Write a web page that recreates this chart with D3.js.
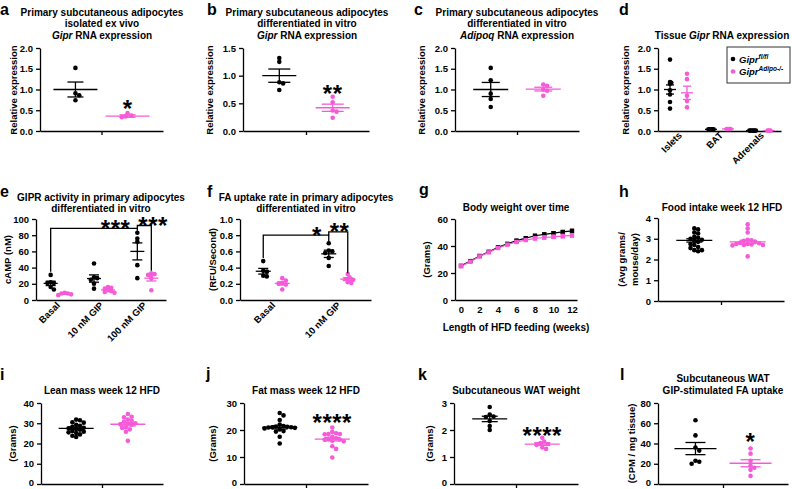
<!DOCTYPE html>
<html>
<head>
<meta charset="utf-8">
<script src="https://cdn.jsdelivr.net/npm/d3@7"></script>
<style>
  body { margin: 0; background: #fff; }
  svg { display: block; font-family: "Liberation Sans", Arial, sans-serif; font-weight: bold; }
</style>
</head>
<body>
<svg id="fig" width="792" height="489"></svg>
<script>
const BLACK = '#000'
const PINK = '#f55bd8'
const R = 2.3

// a - Gipr RNA, isolated ex vivo
const aCtrl = [1.52, 0.91, 0.86, 0.74]
const aKo = [0.43, 0.37, 0.35, 0.33]
const aMean = [1.0, 0.36]
const aSem = [0.18, 0.03]
const aStar = ['*', 0.67]

// b - Gipr RNA, differentiated in vitro
const bCtrl = [1.32, 1.25, 0.88, 0.86, 0.74]
const bKo = [0.62, 0.52, 0.37, 0.35, 0.24]
const bMean = [1.0, 0.42]
const bSem = [0.12, 0.065]
const bStar = ['**', 0.78]

// c - Adipoq RNA
const cCtrl = [1.52, 1.22, 0.90, 0.77, 0.58]
const cKo = [1.12, 1.09, 1.0, 0.97, 0.85]
const cMean = [1.0, 1.01]
const cSem = [0.17, 0.045]

// d - tissue Gipr RNA
const dTissues = ['Islets', 'BAT', 'Adrenals']
const dCtrl = [[1.72, 1.18, 1.16, 1.14, 0.98, 0.88, 0.70, 0.54], [0.04, 0.04, 0.04, 0.04, 0.04], [0.01, 0.01, 0.01, 0.01, 0.01, 0.01]]
const dKo = [[1.38, 1.25, 0.85, 0.72, 0.57], [0.05, 0.05, 0.05, 0.05], [0.01, 0.01, 0.01]]
const dCtrlMean = [1.0, 0.04, 0.01]
const dCtrlSem = [0.11, 0.003, 0.001]
const dKoMean = [0.92, 0.05, 0.01]
const dKoSem = [0.16, 0.004, 0.001]

// e - cAMP
const eDoses = ['Basal', '10 nM GIP', '100 nM GIP']
const eCtrl = [[31, 22, 21, 21, 16, 13], [45, 28, 27, 25, 20, 14], [83, 76, 72, 43, 27]]
const eKo = [[9, 8, 8, 7, 6], [16, 15, 14, 12, 11, 10, 9], [33, 32, 31, 27, 12]]
const eCtrlMean = [20.5, 26.5, 60]
const eCtrlSem = [2.7, 4.5, 10.5]
const eKoMean = [7.6, 12.4, 27]
const eKoSem = [0.5, 1, 3.5]
const eBrackets = [
  { a: ['Basal', 'ctrl'], b: ['100 nM GIP', 'ctrl'], at: 88.5, endA: 35, endB: 85.5, label: '***', align: 'end' },
  { a: ['100 nM GIP', 'ctrl'], b: ['100 nM GIP', 'ko'], at: 92, endA: 88.5, endB: 36, label: '***', align: 'start' }
]

// f - FA uptake rate
const fDoses = ['Basal', '10 nM GIP']
const fCtrl = [[0.48, 0.36, 0.35, 0.30, 0.29], [0.70, 0.61, 0.60, 0.58, 0.52, 0.42]]
const fKo = [[0.27, 0.24, 0.21, 0.20, 0.19, 0.13], [0.32, 0.28, 0.26, 0.25, 0.22, 0.21]]
const fCtrlMean = [0.355, 0.57]
const fCtrlSem = [0.035, 0.045]
const fKoMean = [0.205, 0.257]
const fKoSem = [0.02, 0.017]
const fBrackets = [
  { a: ['Basal', 'ctrl'], b: ['10 nM GIP', 'ctrl'], at: 0.80, endA: 0.52, endB: 0.72, label: '*', align: 'end' },
  { a: ['10 nM GIP', 'ctrl'], b: ['10 nM GIP', 'ko'], at: 0.84, endA: 0.80, endB: 0.33, label: '**', align: 'start' }
]

// g - body weight
const gWeeks = [0, 1, 2, 3, 4, 5, 6, 7, 8, 9, 10, 11, 12]
const gCtrl = [25.3, 28.8, 32.6, 35.7, 39.0, 41.6, 44.0, 45.8, 47.6, 48.6, 49.5, 50.4, 51.2]
const gKo = [25.0, 28.4, 32.3, 35.3, 38.5, 41.0, 43.0, 44.4, 45.6, 46.3, 46.8, 47.3, 47.9]
const gCtrlSem = [0.4, 0.5, 0.6, 0.7, 0.8, 0.9, 0.9, 1.0, 1.0, 1.1, 1.1, 1.1, 1.2]
const gKoSem = [0.4, 0.5, 0.6, 0.7, 0.8, 0.9, 1.0, 1.1, 1.2, 1.3, 1.3, 1.4, 1.4]
const gTicks = [0, 2, 4, 6, 8, 10, 12]

// h - food intake
const hCtrl = [3.5, 3.45, 3.3, 3.25, 3.1, 3.05, 3.0, 2.95, 2.9, 2.85, 2.75, 2.7, 2.6, 2.55, 2.45, 2.45, 2.4]
const hKo = [3.7, 3.5, 3.3, 2.95, 2.92, 2.9, 2.85, 2.8, 2.78, 2.75, 2.75, 2.72, 2.7, 2.7, 2.68, 2.15]
const hMean = [2.92, 2.85]
const hSem = [0.08, 0.08]

// i - lean mass
const iCtrl = [31.8, 31.5, 30.5, 30.3, 29.2, 28.8, 28.3, 27.8, 27.5, 27.2, 26.8, 26.2, 25.8, 25.5, 25.2, 24.5, 23.8, 23.2]
const iKo = [34.6, 33.2, 33.0, 31.8, 31.2, 30.8, 30.0, 29.8, 29.5, 29.3, 28.0, 27.7, 27.0, 25.8, 21.3]
const iMean = [27.5, 29.5]
const iSem = [0.6, 0.8]

// j - fat mass
const jCtrl = [26.3, 25.4, 23.7, 22.0, 21.5, 21.3, 21.2, 21.0, 21.0, 20.9, 20.8, 20.6, 20.2, 19.6, 19.4, 17.5, 15.0]
const jKo = [20.9, 19.3, 18.8, 18.5, 18.5, 18.4, 17.5, 16.9, 16.7, 16.5, 16.4, 16.0, 15.8, 14.0, 13.0, 9.8]
const jMean = [21.0, 16.6]
const jSem = [0.6, 0.65]
const jStar = ['****', 24.8]

// k - subcutaneous WAT weight
const kCtrl = [2.85, 2.57, 2.5, 2.48, 2.33, 2.15, 2.0]
const kKo = [1.71, 1.57, 1.52, 1.48, 1.45, 1.35, 1.3]
const kMean = [2.41, 1.48]
const kSem = [0.1, 0.05]
const kStar = ['****', 2.0]

// l - GIP-stimulated FA uptake
const lCtrl = [63, 48, 36, 33, 23, 22, 20]
const lKo = [35, 30, 23, 18, 16, 14, 8]
const lMean = [35, 20.5]
const lSem = [6, 3.5]
const lStar = ['*', 47]

const svg = d3.select('#fig')

function rich (t, segs) {
  segs.forEach(s => {
    const ts = t.append('tspan').text(s[0])
    if (s[1] === 'i') ts.style('font-style', 'italic')
  })
}

function addTitle (lines, cx, y0) {
  lines.forEach((ln, i) => {
    const t = svg.append('text').attr('x', cx).attr('y', y0 + i * 11.5)
      .attr('text-anchor', 'middle').attr('font-size', 10)
    rich(t, typeof ln === 'string' ? [[ln]] : ln)
  })
}

function addLetter (ch, x, y) {
  svg.append('text').attr('x', x).attr('y', y).attr('font-size', 16).text(ch)
}

function addYLabel (lines, x, yc) {
  lines.forEach((s, i) => {
    svg.append('text').attr('transform', `translate(${x + i * 13},${yc}) rotate(-90)`)
      .attr('text-anchor', 'middle').attr('font-size', 9.5).text(s)
  })
}

// simple beeswarm, points may overlap a little like the original
function swarm (vals, y, sep) {
  const placed = []
  const step = sep * 0.5
  return vals.map(v => {
    const py = y(v)
    let dx = 0
    for (let k = 0; k < 80; k++) {
      const cands = k === 0 ? [0] : [k * step, -k * step]
      const hit = cands.find(c => placed.every(q => Math.hypot(q[0] - c, q[1] - py) >= sep))
      if (hit !== undefined) { dx = hit; break }
    }
    placed.push([dx, py])
    return dx
  })
}

function drawGroup (y, cx, vals, mean, sem, color, mw, cw, sep) {
  const offs = swarm(vals, y, sep || 3.8)
  svg.append('g').selectAll('circle').data(vals).join('circle')
    .attr('cx', (d, i) => cx + offs[i]).attr('cy', d => y(d)).attr('r', R).attr('fill', color)
  const g = svg.append('g').attr('stroke', color).attr('stroke-width', 1.3)
  g.append('line').attr('x1', cx - mw).attr('x2', cx + mw).attr('y1', y(mean)).attr('y2', y(mean))
  g.append('line').attr('x1', cx).attr('x2', cx).attr('y1', y(mean - sem)).attr('y2', y(mean + sem))
  ;[mean - sem, mean + sem].forEach(v => {
    g.append('line').attr('x1', cx - cw).attr('x2', cx + cw).attr('y1', y(v)).attr('y2', y(v))
  })
}

function frame (p) {
  const y = d3.scaleLinear().domain([0, p.max]).range([p.bot, p.top])
  svg.append('g').attr('class', 'ax' + (p.low ? ' low' : '')).attr('transform', `translate(${p.x0},0)`)
    .call(d3.axisLeft(y).tickValues(p.ticks).tickFormat(d3.format(p.fmt)).tickSize(4).tickSizeOuter(0))
  return y
}

function addStar (text, x, yv, anchor) {
  svg.append('text').attr('x', x).attr('y', yv + 0.58 * 24).attr('text-anchor', anchor || 'middle')
    .attr('font-size', 24).attr('letter-spacing', 0.5).text(text)
}

function twoGroup (p) {
  const y = frame(p)
  const x = d3.scalePoint().domain(['ctrl', 'ko']).range([p.x0, p.x1]).padding(p.pad || 0.68)
  svg.append('g').attr('class', 'ax').attr('transform', `translate(0,${p.bot})`)
    .call(d3.axisBottom(d3.scaleLinear().range([p.x0, p.x1])).tickValues([0.5]).tickFormat('').tickSize(4).tickSizeOuter(0))
  drawGroup(y, x('ctrl'), p.ctrl, p.mean[0], p.sem[0], BLACK, p.mw, p.cw)
  drawGroup(y, x('ko'), p.ko, p.mean[1], p.sem[1], PINK, p.mw, p.cw)
  if (p.star) addStar(p.star[0], x('ko'), y(p.star[1]))
}

function catPanel (p) {
  const y = frame(p)
  const x = d3.scaleBand().domain(p.cats).range([p.x0, p.x1])
  const sub = d3.scalePoint().domain(['ctrl', 'ko']).range([-p.sub, p.sub])
  const cx = (c, k) => x(c) + x.bandwidth() / 2 + sub(k)
  const ax = svg.append('g').attr('class', 'ax').attr('transform', `translate(0,${p.bot})`)
    .call(d3.axisBottom(x).tickSize(0).tickSizeOuter(0))
  ax.selectAll('.tick text').attr('x', 0).attr('y', 0).attr('dy', 0)
    .attr('transform', `translate(${p.lab[0]},${p.lab[1]}) rotate(-45)`).attr('text-anchor', 'end')
  p.cats.forEach((c, i) => {
    drawGroup(y, cx(c, 'ctrl'), p.ctrl[i], p.ctrlMean[i], p.ctrlSem[i], BLACK, p.mw, p.cw, p.sep)
    drawGroup(y, cx(c, 'ko'), p.ko[i], p.koMean[i], p.koSem[i], PINK, p.mw, p.cw, p.sep)
  })
  ;(p.brackets || []).forEach(b => {
    const xa = cx(b.a[0], b.a[1])
    const xb = cx(b.b[0], b.b[1])
    svg.append('path').attr('fill', 'none').attr('stroke', '#000').attr('stroke-width', 1.3)
      .attr('d', d3.line()([[xa, y(b.endA)], [xa, y(b.at)], [xb, y(b.at)], [xb, y(b.endB)]]))
    const sy = y(b.at) - 2 - 0.15 * 24
    if (b.align === 'end') addStar(b.label, xb - 7, sy, 'end')
    else addStar(b.label, xa + 1, sy, 'start')
  })
}

// ---- row 1 ----
addLetter('a', 0, 15)
addTitle(['Primary subcutaneous adipocytes', 'isolated ex vivo', [['Gipr', 'i'], [' RNA expression']]], 102, 15.5)
addYLabel(['Relative expression'], 17, 90)
twoGroup({ x0: 40, x1: 163, top: 48, bot: 131, max: 2, ticks: [0, 0.5, 1, 1.5, 2], fmt: '.1f', ctrl: aCtrl, ko: aKo, mean: aMean, sem: aSem, mw: 22, cw: 8, star: aStar })

addLetter('b', 207, 15)
addTitle(['Primary subcutaneous adipocytes', 'differentiated in vitro', [['Gipr', 'i'], [' RNA expression']]], 307, 15.5)
addYLabel(['Relative expression'], 213, 90)
twoGroup({ x0: 243, x1: 369, top: 48, bot: 131, max: 1.5, ticks: [0, 0.5, 1, 1.5], fmt: '.1f', ctrl: bCtrl, ko: bKo, mean: bMean, sem: bSem, mw: 17, cw: 11, star: bStar })

addLetter('c', 414, 15)
addTitle(['Primary subcutaneous adipocytes', 'differentiated in vitro', [['Adipoq', 'i'], [' RNA expression']]], 517, 15.5)
addYLabel(['Relative expression'], 425, 90)
twoGroup({ x0: 455, x1: 579, top: 48, bot: 131, max: 2, ticks: [0, 0.5, 1, 1.5, 2], fmt: '.1f', ctrl: cCtrl, ko: cKo, mean: cMean, sem: cSem, mw: 17.5, cw: 9 })

addLetter('d', 619, 15)
addTitle([[['Tissue '], ['Gipr', 'i'], [' RNA expression']]], 722, 38.5)
addYLabel(['Relative expression'], 629, 90)
catPanel({ x0: 658, x1: 781, top: 48, bot: 131, max: 2, ticks: [0, 0.5, 1, 1.5, 2], fmt: '.1f', cats: dTissues, sub: 8.5, lab: [4, 5],
  ctrl: dCtrl, ko: dKo, ctrlMean: dCtrlMean, ctrlSem: dCtrlSem, koMean: dKoMean, koSem: dKoSem, mw: 6, cw: 4, sep: 1.3 })

// legend d
const leg = svg.append('g')
leg.append('rect').attr('x', 727).attr('y', 47).attr('width', 63).attr('height', 36)
  .attr('fill', '#fff').attr('stroke', '#333').attr('stroke-width', 1)
;[['fl/fl', BLACK], ['Adipo-/-', PINK]].forEach((e, i) => {
  leg.append('circle').attr('cx', 733).attr('cy', 59 + i * 12.5).attr('r', R).attr('fill', e[1])
  const t = leg.append('text').attr('x', 739).attr('y', 62.5 + i * 12.5).attr('font-size', 9.5)
  t.append('tspan').style('font-style', 'italic').text('Gipr')
  t.append('tspan').attr('dy', -4).attr('font-size', 6.5).style('font-style', 'italic').text(e[0])
})

// ---- row 2 ----
addLetter('e', 0, 197)
addTitle(['GIPR activity in primary adipocytes', 'differentiated in vitro'], 101, 200.5)
addYLabel(['cAMP (nM)'], 11, 259.5)
catPanel({ x0: 36, x1: 166, top: 219, bot: 300, max: 100, ticks: [0, 20, 40, 60, 80, 100], fmt: 'd', cats: eDoses, sub: 7, lab: [3, 6],
  ctrl: eCtrl, ko: eKo, ctrlMean: eCtrlMean, ctrlSem: eCtrlSem, koMean: eKoMean, koSem: eKoSem, mw: 7, cw: 5, sep: 3.2, brackets: eBrackets })

addLetter('f', 207, 197)
addTitle(['FA uptake rate in primary adipocytes', 'differentiated in vitro'], 306, 200.5)
addYLabel(['(RFU/Second)'], 216, 259.5)
catPanel({ x0: 240, x1: 371, top: 219, bot: 300, max: 1, ticks: [0, 0.2, 0.4, 0.6, 0.8, 1], fmt: '.1f', cats: fDoses, sub: 9.5, lab: [3, 6],
  ctrl: fCtrl, ko: fKo, ctrlMean: fCtrlMean, ctrlSem: fCtrlSem, koMean: fKoMean, koSem: fKoSem, mw: 7.5, cw: 5, sep: 3.6, brackets: fBrackets })

// g - body weight line chart
addLetter('g', 419, 195)
addTitle(['Body weight over time'], 516, 211)
addYLabel(['(Grams)'], 430, 259.5)
{
  const y = frame({ x0: 455, top: 219, bot: 300, max: 60, ticks: [0, 20, 40, 60], fmt: 'd' })
  const x = d3.scaleLinear().domain([-0.65, 12.54]).range([455, 577])
  svg.append('g').attr('class', 'ax').attr('transform', 'translate(0,300)')
    .call(d3.axisBottom(x).tickValues(gTicks).tickSize(0).tickSizeOuter(0).tickPadding(6))
  ;[[gCtrl, gCtrlSem, BLACK], [gKo, gKoSem, PINK]].forEach(([vals, sems, col]) => {
    const g = svg.append('g')
    g.append('path').attr('fill', 'none').attr('stroke', col).attr('stroke-width', 1.2)
      .attr('d', d3.line().x((d, i) => x(gWeeks[i])).y(d => y(d))(vals))
    g.selectAll('.eb').data(vals).join('path').attr('stroke', col).attr('stroke-width', 1)
      .attr('d', (d, i) => {
        const px = x(gWeeks[i]); const a = y(d + sems[i]); const b = y(d - sems[i])
        return `M${px - 2},${a}H${px + 2}M${px},${a}V${b}M${px - 2},${b}H${px + 2}`
      })
    g.selectAll('rect').data(vals).join('rect')
      .attr('x', (d, i) => x(gWeeks[i]) - 2.2).attr('y', d => y(d) - 2.2)
      .attr('width', 4.4).attr('height', 4.4).attr('fill', col)
  })
  svg.append('text').attr('x', 516).attr('y', 331).attr('text-anchor', 'middle').attr('font-size', 10)
    .text('Length of HFD feeding (weeks)')
}

addLetter('h', 619, 197)
addTitle(['Food intake week 12 HFD'], 722, 211)
addYLabel(['(Avg grams/', 'mouse/day)'], 625, 259.5)
twoGroup({ x0: 658, x1: 784, top: 218, bot: 301, max: 4, ticks: [0, 1, 2, 3, 4], fmt: 'd', ctrl: hCtrl, ko: hKo, mean: hMean, sem: hSem, mw: 18, cw: 8 })

// ---- row 3 ----
addLetter('i', 0, 380)
addTitle(['Lean mass week 12 HFD'], 102, 394)
addYLabel(['(Grams)'], 16, 443.5)
twoGroup({ x0: 41, x1: 163, top: 403, bot: 484, max: 40, ticks: [0, 10, 20, 30, 40], fmt: 'd', low: true, ctrl: iCtrl, ko: iKo, mean: iMean, sem: iSem, mw: 17.5, cw: 8 })

addLetter('j', 206, 379)
addTitle(['Fat mass week 12 HFD'], 306, 394)
addYLabel(['(Grams)'], 216, 443.5)
twoGroup({ x0: 244, x1: 368, top: 403, bot: 484, max: 30, ticks: [0, 10, 20, 30], fmt: 'd', low: true, ctrl: jCtrl, ko: jKo, mean: jMean, sem: jSem, mw: 17.5, cw: 8, star: jStar })

addLetter('k', 418, 380)
addTitle(['Subcutaneous WAT weight'], 516, 394)
addYLabel(['(Grams)'], 433, 443.5)
twoGroup({ x0: 454, x1: 578, top: 403, bot: 484, max: 3, ticks: [0, 1, 2, 3], fmt: 'd', low: true, ctrl: kCtrl, ko: kKo, mean: kMean, sem: kSem, mw: 17.5, cw: 8, star: kStar })

addLetter('l', 620, 380)
addTitle(['Subcutaneous WAT', 'GIP-stimulated FA uptake'], 723, 382)
addYLabel(['(CPM / mg tissue)'], 635, 443.5)
twoGroup({ x0: 658, x1: 788, top: 403, bot: 484, max: 80, ticks: [0, 20, 40, 60, 80], fmt: 'd', low: true, ctrl: lCtrl, ko: lKo, mean: lMean, sem: lSem, mw: 21, cw: 10, star: lStar })

// axis styling
svg.selectAll('.ax').attr('font-family', null).attr('font-size', null)
svg.selectAll('.ax .domain, .ax .tick line').attr('stroke', '#000').attr('stroke-width', 1.3)
svg.selectAll('.ax .tick text').attr('fill', '#000').attr('font-size', 9.5)
// keep the bottom row's zero labels inside the picture
svg.selectAll('.low .tick text').filter(d => d === 0).attr('dy', '0.2em')
</script>
</body>
</html>
